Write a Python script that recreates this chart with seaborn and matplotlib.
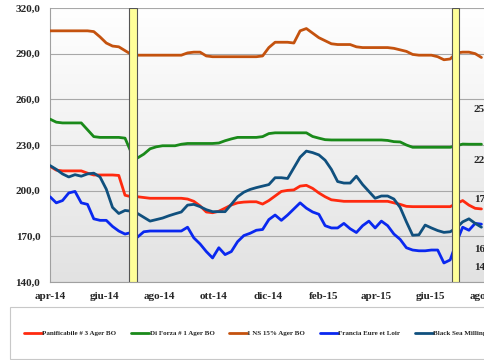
import numpy as np
import pandas as pd
import matplotlib
matplotlib.use("Agg")
import matplotlib.pyplot as plt
import matplotlib.patches as mpatches
from matplotlib.lines import Line2D
from matplotlib.colors import LinearSegmentedColormap
import seaborn as sns

# ---------------- data ----------------
start_date = "2014-04-01"
n_weeks = 70

panificabile = [216, 213.5, 213, 213, 213, 213, 211.5, 210.3, 210.3, 210.3,
                210.3, 210, 197, 196, 196, 195.5, 195, 195, 195, 195,
                195, 195, 194.5, 193, 190, 186, 185.5, 186.5, 188.5, 190.6,
                192, 192.5, 192.7, 192.7, 191.2, 193.5, 196.5, 199.5, 200.2, 200.5,
                203, 203.5, 201.5, 198.5, 196, 194, 193.5, 193, 193, 193,
                193, 193, 193, 193, 193, 192, 191, 189.7, 189.5, 189.5,
                189.5, 189.5, 189.5, 189.5, 189.5, 191.5, 193.5, 190.5, 188.4, 188]

di_forza = [247, 245, 244.5, 244.5, 244.5, 244.5, 240, 235.5, 235, 235,
            235, 235, 234.5, 225, 221.5, 224, 227.5, 228.8, 229.5, 229.5,
            229.5, 230.5, 231, 231, 231, 231, 231, 231.3, 232.8, 234,
            235, 235, 235, 235, 235.5, 237.5, 238, 238, 238, 238,
            238, 238, 235.6, 234.5, 233.5, 233.3, 233.3, 233.3, 233.3, 233.3,
            233.3, 233.3, 233.3, 233.3, 233, 232.2, 232, 230, 228.5, 228.5,
            228.5, 228.5, 228.5, 228.5, 228.5, 229.5, 230.6, 230.5, 230.5, 230.5]

ns15 = [305, 305, 305, 305, 305, 305, 305, 304.5, 301, 297,
        295, 294.5, 292, 289.5, 289, 289, 289, 289, 289, 289,
        289, 289, 290.5, 291, 291, 288.5, 288, 288, 288, 288,
        288, 288, 288, 288, 288.5, 294, 297.5, 297.5, 297.5, 297,
        305, 306.5, 303.5, 300.5, 298.5, 296.5, 296, 296, 296, 294.5,
        294, 294, 294, 294, 294, 293.5, 292.5, 291.5, 289.5, 289,
        289, 289, 288, 286, 286.5, 290.5, 291, 291, 290, 287.5]

francia = [196, 192, 193.5, 198.5, 199.5, 192, 191, 181.5, 180.5, 180.5,
           176.5, 173.5, 171.5, 172.5, 169.5, 173, 173.5, 173.5, 173.5, 173.5,
           173.5, 173.5, 176, 169, 165, 160, 155.8, 162.5, 158, 160,
           166.5, 170.5, 172, 174, 174.5, 181, 184, 180.5, 184, 188,
           192, 188.5, 186, 184.5, 177, 175.5, 175.5, 178.5, 175, 172.5,
           177, 180, 175.5, 180, 177, 171.5, 168, 162.5, 161, 160.5,
           160.5, 161, 161, 152.5, 154.5, 166, 176, 174, 178.5, 178]

black_sea = [216.5, 214, 211, 209, 210.5, 209.5, 211, 211.5, 209, 201,
             189, 185, 187, 186.5, 185, 182.5, 180, 181, 182, 183.5,
             184.8, 186, 190.5, 191, 189.5, 187.5, 186.2, 186.2, 186.2, 191,
             196, 199, 200.8, 202, 203, 204, 208.5, 208.5, 208, 215,
             222, 226, 225, 223.5, 220, 214, 206, 205, 205, 209.5,
             204, 199.5, 195, 196.5, 196.5, 194.5, 189, 179.5, 170.7, 171,
             177.4, 175.5, 173.8, 172.6, 173, 175.5, 179.5, 181.5, 178.5, 176]

series_names = ["Panificabile # 3 Ager BO", "Di Forza # 1 Ager BO", "1 NS 15% Ager BO",
                "Francia Eure et Loir", "Black Sea Milling"]
series_values = [panificabile, di_forza, ns15, francia, black_sea]
series_colors = ["#ff2a0f", "#1a8a1a", "#c4520e", "#0a28f0", "#10507e"]

tick_dates = ["2014-04-01", "2014-06-01", "2014-08-01", "2014-10-01", "2014-12-01",
              "2015-02-01", "2015-04-01", "2015-06-01", "2015-08-01"]
tick_labels = ["apr-14", "giu-14", "ago-14", "ott-14", "dic-14",
               "feb-15", "apr-15", "giu-15", "ago-15"]
y_ticks = [140, 170, 200, 230, 260, 290, 320]
y_labels = ["140,0", "170,0", "200,0", "230,0", "260,0", "290,0", "320,0"]

highlight_spans = [("2014-06-29", "2014-07-07"), ("2015-06-25", "2015-07-03")]

right_labels = ["250,0", "220,0", "175,0", "165,0", "145,0"]
right_label_y = [109, 160, 199, 249, 267]   # pixel rows

# ---------------- build frame ----------------
dates = pd.date_range(start_date, periods=n_weeks, freq="7D")
frames = []
for name, vals in zip(series_names, series_values):
    frames.append(pd.DataFrame({"date": dates, "value": vals, "serie": name}))
df = pd.concat(frames, ignore_index=True)

sns.set_style("white")
plt.rcParams["font.family"] = ["Liberation Serif", "DejaVu Serif"]
plt.rcParams["font.weight"] = "bold"

W, H = 485, 360
fig = plt.figure(figsize=(W / 100, H / 100), dpi=100)
fig.patch.set_facecolor("white")

# axes: left at x=50, extends past right edge of image
x0, x1 = 50, 539.5
y_top, y_bot = 8, 282
ax = fig.add_axes([x0 / W, 1 - y_bot / H, (x1 - x0) / W, (y_bot - y_top) / H])

# gradient background (white at top, light grey at bottom)
grad = np.linspace(0, 1, 256).reshape(-1, 1)
cmap = LinearSegmentedColormap.from_list("bg", ["#e2e2e2", "#ffffff"])
ax.imshow(grad, extent=[0, 1, 0, 1], transform=ax.transAxes, aspect="auto",
          cmap=cmap, origin="lower", zorder=0)

sns.lineplot(data=df, x="date", y="value", hue="serie", hue_order=series_names,
             palette=series_colors, linewidth=2.0, ax=ax, legend=False, zorder=3)

ax.set_xlim(pd.Timestamp("2014-04-01"), pd.Timestamp("2015-10-01"))
ax.set_ylim(140, 320)
ax.set_yticks(y_ticks)
ax.set_yticklabels(y_labels, fontsize=8, fontweight="bold")
ax.set_xticks(pd.to_datetime(tick_dates))
ax.set_xticklabels(tick_labels, fontsize=8, fontweight="bold")
ax.set_xlabel("")
ax.set_ylabel("")
ax.grid(axis="y", color="#a8a8a8", linewidth=0.8, zorder=1)
ax.set_axisbelow(True)
ax.tick_params(axis="y", length=0, pad=7)
ax.tick_params(axis="x", length=3, color="#a0a0a0", pad=4, direction="out")
for s in ["top", "right"]:
    ax.spines[s].set_visible(False)
for s in ["left", "bottom"]:
    ax.spines[s].set_color("#a0a0a0")
    ax.spines[s].set_linewidth(0.8)

for a, b in highlight_spans:
    ax.axvspan(pd.Timestamp(a), pd.Timestamp(b), facecolor="#ffff99",
               edgecolor="#555555", linewidth=0.8, zorder=5)

for lab, yp in zip(right_labels, right_label_y):
    fig.text(474 / W, 1 - yp / H, lab, fontsize=8, fontweight="bold",
             ha="left", va="center")

# legend box
box = mpatches.Rectangle((10 / W, 1 - 359 / H), (500 - 10) / W, (359 - 307) / H,
                         transform=fig.transFigure, facecolor="white",
                         edgecolor="#c8c8c8", linewidth=0.8)
fig.patches.append(box)

handles = [Line2D([0], [0], color=c, linewidth=2.0) for c in series_colors]
fig.legend(handles, series_names, loc="center left",
           bbox_to_anchor=(24 / W, 1 - 333 / H), ncol=5, frameon=False,
           handlelength=2.6, handletextpad=0.05, columnspacing=2.1,
           borderaxespad=0, borderpad=0, prop={"weight": "bold", "size": 5})

fig.savefig("out.png", dpi=100)
